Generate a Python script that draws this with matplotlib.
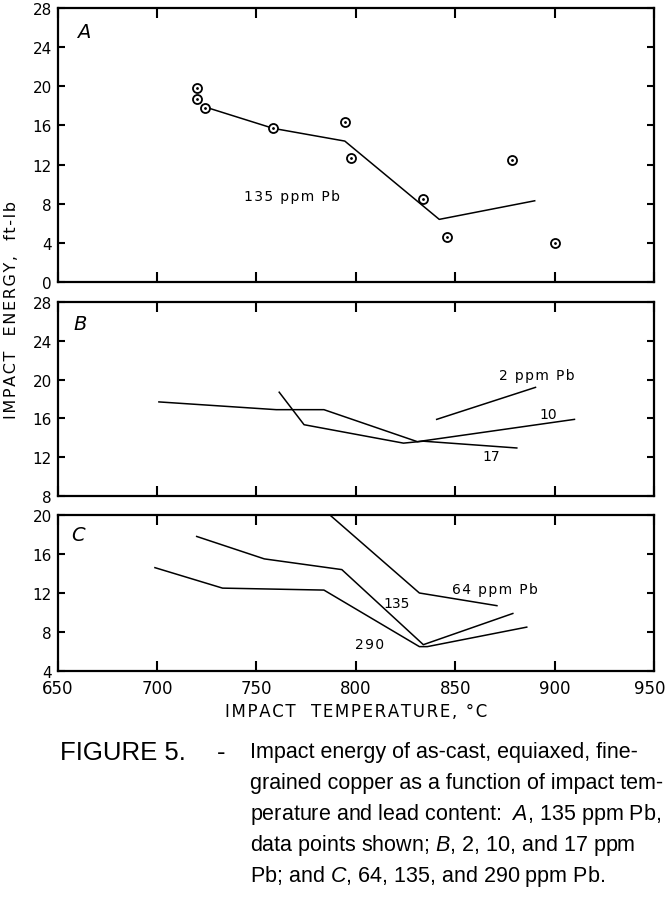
import matplotlib
matplotlib.use("Agg")
import matplotlib.pyplot as plt
from matplotlib.transforms import ScaledTranslation

# ---------------- data ----------------
# Panel A: 135 ppm Pb, data points and fitted curve
a_pts_temp = [720, 720, 724, 758.5, 794.5, 797.5, 834, 846, 878.5, 900.3]
a_pts_energy = [19.8, 18.7, 17.8, 15.7, 16.4, 12.7, 8.5, 4.6, 12.5, 4.0]
a_line_temp = [724, 758.5, 794.5, 842, 890]
a_line_energy = [17.9, 15.7, 14.4, 6.4, 8.3]

# Panel B: 2, 10, 17 ppm Pb
b2_temp = [840.7, 890.4]
b2_energy = [15.9, 19.2]
b10_temp = [701, 760, 784, 831, 910]
b10_energy = [17.7, 16.9, 16.9, 13.6, 15.9]
b17_temp = [761.5, 774, 824, 834, 881]
b17_energy = [18.7, 15.35, 13.45, 13.65, 12.95]

# Panel C: 64, 135, 290 ppm Pb
c64_temp = [787, 832, 871]
c64_energy = [20.0, 12.0, 10.7]
c135_temp = [720, 754, 793, 834, 879]
c135_energy = [17.8, 15.5, 14.4, 6.7, 9.9]
c290_temp = [699, 733, 784, 832, 836, 886]
c290_energy = [14.6, 12.5, 12.3, 6.5, 6.5, 8.5]

x_ticks = [650, 700, 750, 800, 850, 900, 950]
a_yticks = [0, 4, 8, 12, 16, 20, 24, 28]
b_yticks = [8, 12, 16, 20, 24, 28]
c_yticks = [4, 8, 12, 16, 20]

HS = "\u200a"  # hair space for letter spacing


def spaced(s):
    return HS.join(s)


# ---------------- figure ----------------
W, H = 668, 904
fig = plt.figure(figsize=(W / 100, H / 100), dpi=100)


def px_axes(top, bottom, left=57.5, right=654):
    return fig.add_axes([left / W, 1 - bottom / H, (right - left) / W, (bottom - top) / H])


axA = px_axes(9, 283)
axB = px_axes(303, 497)
axC = px_axes(516, 672)

lw = 1.1
for ax, yt in ((axA, a_yticks), (axB, b_yticks), (axC, c_yticks)):
    ax.set_xlim(650, 950)
    ax.set_ylim(yt[0], yt[-1])
    ax.set_yticks(yt)
    ax.set_xticks(x_ticks)
    for s in ax.spines.values():
        s.set_linewidth(1.6)
    ax.tick_params(axis="both", direction="in", width=1.5, colors="black")
    ax.tick_params(axis="x", length=7, top=True, bottom=True, labelsize=12, pad=6)
    ax.tick_params(axis="y", length=5, left=True, right=True, labelsize=11, pad=4)

axA.tick_params(axis="x", labelbottom=False)
axB.tick_params(axis="x", labelbottom=False)

# keep the last x tick label inside the figure
fig.canvas.draw()
last_lbl = axC.get_xticklabels()[-1]
last_lbl.set_transform(last_lbl.get_transform() + ScaledTranslation(-4 / 100, 0, fig.dpi_scale_trans))

lab_fs = 10
# Panel A
axA.plot(a_line_temp, a_line_energy, color="black", lw=lw)
axA.plot(a_pts_temp, a_pts_energy, linestyle="none", marker="o", markersize=6.5,
         markerfacecolor="white", markeredgecolor="black", markeredgewidth=1.3)
axA.plot(a_pts_temp, a_pts_energy, linestyle="none", marker=".", markersize=2, color="black")
axA.text(768, 8.8, spaced("135 ppm Pb"), fontsize=lab_fs, ha="center", va="center")
axA.text(660, 25.6, "A", fontsize=14, style="italic", ha="left", va="center")

# Panel B
for xs, ys in ((b2_temp, b2_energy), (b10_temp, b10_energy), (b17_temp, b17_energy)):
    axB.plot(xs, ys, color="black", lw=lw)
axB.text(891, 20.5, spaced("2 ppm Pb"), fontsize=lab_fs, ha="center", va="center")
axB.text(897, 16.45, "10", fontsize=lab_fs, ha="center", va="center")
axB.text(868, 12.1, "17", fontsize=lab_fs, ha="center", va="center")
axB.text(658, 25.8, "B", fontsize=14, style="italic", ha="left", va="center")

# Panel C
for xs, ys in ((c64_temp, c64_energy), (c135_temp, c135_energy), (c290_temp, c290_energy)):
    axC.plot(xs, ys, color="black", lw=lw)
axC.text(870, 12.4, spaced("64 ppm Pb"), fontsize=lab_fs, ha="center", va="center")
axC.text(820.5, 11.0, "135", fontsize=lab_fs, ha="center", va="center")
axC.text(807, 6.8, spaced("290"), fontsize=lab_fs, ha="center", va="center")
axC.text(657, 18.0, "C", fontsize=14, style="italic", ha="left", va="center")

# axis labels
fig.text(12 / W, 1 - 310 / H, spaced("IMPACT  ENERGY,  ft-lb"), rotation=90, fontsize=11.5,
         ha="center", va="center")
fig.text(356 / W, 1 - 712 / H, spaced("IMPACT  TEMPERATURE, °C"), fontsize=12,
         ha="center", va="center")

# caption
cap_font = "Liberation Sans"
cap_size = 15.5
plt.rcParams["mathtext.fontset"] = "custom"
plt.rcParams["mathtext.it"] = "Liberation Sans:italic"
line_y = [753, 784, 815, 846, 877]
fig.text(60 / W, 1 - line_y[0] / H, "FIGURE 5.", fontsize=18.5,
         family=cap_font, ha="left", va="center")
fig.text(217 / W, 1 - line_y[0] / H, "-", fontsize=18.5,
         family=cap_font, ha="left", va="center")
cap_lines = [
    "Impact energy of as-cast, equiaxed, fine-",
    "grained copper as a function of impact tem-",
    r"perature and lead content:  $\mathit{A}$, 135 ppm Pb,",
    r"data points shown; $\mathit{B}$, 2, 10, and 17 ppm",
    r"Pb; and $\mathit{C}$, 64, 135, and 290 ppm Pb.",
]
for yy, ln in zip(line_y, cap_lines):
    fig.text(250 / W, 1 - yy / H, ln, fontsize=cap_size, family=cap_font,
             ha="left", va="center")

fig.savefig("out.png", dpi=100)
